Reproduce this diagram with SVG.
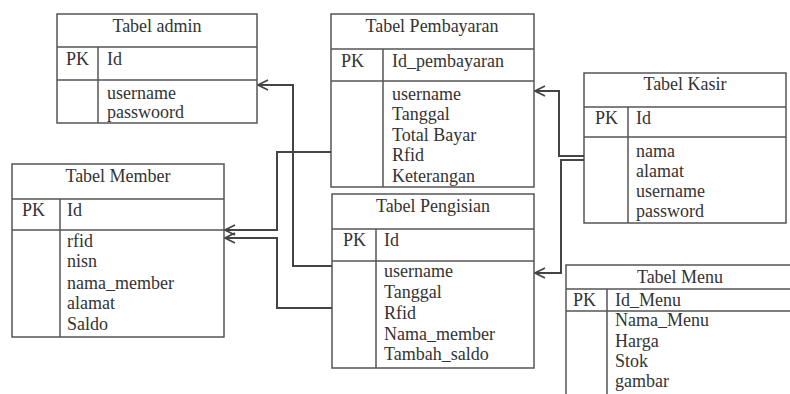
<svg xmlns="http://www.w3.org/2000/svg" width="790" height="394" viewBox="0 0 790 394" font-family="'Liberation Serif', 'Times New Roman', 'DejaVu Serif', serif">
<defs>
<style>
.box{fill:#fff;stroke:#555;stroke-width:1.5}
.ln{stroke:#555;stroke-width:1.5;fill:none}
.t{font-family:'Liberation Serif','Times New Roman','DejaVu Serif',serif;font-size:18px;fill:#333}
.c{text-anchor:middle}
.con{stroke:#444;stroke-width:2;fill:none;marker-end:url(#arr)}
</style>
<marker id="arr" viewBox="0 0 12 12" refX="11" refY="6" markerWidth="12" markerHeight="12" markerUnits="userSpaceOnUse" orient="auto">
<path d="M1,1 L11,6 L1,11" fill="none" stroke="#444" stroke-width="1.8"/>
</marker>
</defs>
<rect width="790" height="394" fill="#fff"/>

<g id="tabel-admin">
<rect class="box" x="57" y="14" width="200" height="109"/>
<path class="ln" d="M57,47 H257 M57,80 H257 M98,47 V123"/>
<text class="t c" x="157" y="32">Tabel admin</text>
<text class="t" x="66" y="65">PK</text>
<text class="t" x="107" y="65">Id</text>
<text class="t" x="107" y="99">username</text>
<text class="t" x="107" y="118">passwoord</text>
</g>

<g id="tabel-pembayaran">
<rect class="box" x="331" y="14" width="203" height="173"/>
<path class="ln" d="M331,49 H534 M331,81 H534 M383,49 V187"/>
<text class="t c" x="432" y="32">Tabel Pembayaran</text>
<text class="t" x="341" y="67">PK</text>
<text class="t" x="392" y="67">Id_pembayaran</text>
<text class="t" x="392" y="100">username</text>
<text class="t" x="392" y="120">Tanggal</text>
<text class="t" x="392" y="141">Total Bayar</text>
<text class="t" x="392" y="161">Rfid</text>
<text class="t" x="392" y="182">Keterangan</text>
</g>

<g id="tabel-kasir">
<rect class="box" x="584" y="73" width="202" height="150"/>
<path class="ln" d="M584,107 H786 M584,137 H786 M628,107 V223"/>
<text class="t c" x="685" y="90">Tabel Kasir</text>
<text class="t" x="595" y="124">PK</text>
<text class="t" x="636" y="124">Id</text>
<text class="t" x="636" y="157">nama</text>
<text class="t" x="636" y="177">alamat</text>
<text class="t" x="636" y="197">username</text>
<text class="t" x="636" y="217">password</text>
</g>

<g id="tabel-member">
<rect class="box" x="12" y="164" width="212" height="173"/>
<path class="ln" d="M12,199 H224 M12,230 H224 M60,199 V337"/>
<text class="t c" x="118" y="182">Tabel Member</text>
<text class="t" x="22" y="216">PK</text>
<text class="t" x="67" y="216">Id</text>
<text class="t" x="67" y="247">rfid</text>
<text class="t" x="67" y="267">nisn</text>
<text class="t" x="67" y="289">nama_member</text>
<text class="t" x="67" y="309">alamat</text>
<text class="t" x="67" y="330">Saldo</text>
</g>

<g id="tabel-pengisian">
<rect class="box" x="332" y="194" width="202" height="174"/>
<path class="ln" d="M332,229 H534 M332,261 H534 M376,229 V368"/>
<text class="t c" x="433" y="212">Tabel Pengisian</text>
<text class="t" x="343" y="246">PK</text>
<text class="t" x="384" y="246">Id</text>
<text class="t" x="384" y="277">username</text>
<text class="t" x="384" y="298">Tanggal</text>
<text class="t" x="384" y="319">Rfid</text>
<text class="t" x="384" y="340">Nama_member</text>
<text class="t" x="384" y="360">Tambah_saldo</text>
</g>

<g id="tabel-menu">
<rect class="box" x="566" y="265" width="230" height="140"/>
<path class="ln" d="M566,289 H796 M566,311 H796 M607,289 V400"/>
<text class="t c" x="680" y="283">Tabel Menu</text>
<text class="t" x="573" y="306">PK</text>
<text class="t" x="615" y="306">Id_Menu</text>
<text class="t" x="615" y="326">Nama_Menu</text>
<text class="t" x="615" y="347">Harga</text>
<text class="t" x="615" y="367">Stok</text>
<text class="t" x="615" y="387">gambar</text>
</g>

<g id="connectors">
<path class="con" d="M332,266 H293 V85 H258"/>
<path class="con" d="M331,152 H277 V230 H225"/>
<path class="con" d="M332,308 H277 V238 H225"/>
<path class="con" d="M584,156 H559 V91 H535"/>
<path class="con" d="M584,160 H561 V273 H535"/>
</g>
</svg>
